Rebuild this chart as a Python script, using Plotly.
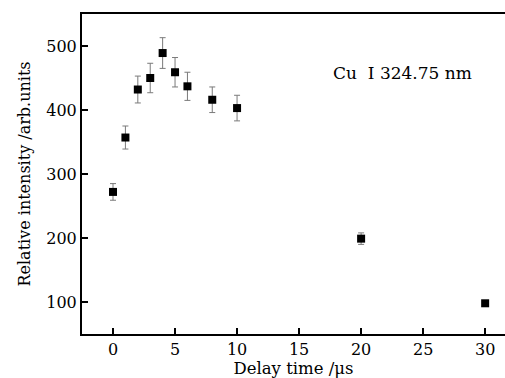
import plotly.graph_objects as go

delay_us = [0, 1, 2, 3, 4, 5, 6, 8, 10, 20, 30]
intensity = [272, 357, 432, 450, 489, 459, 437, 416, 403, 199, 98]
error = [13, 18, 21, 23, 24, 23, 22, 20, 20, 9, 2]
x_ticks = [0, 5, 10, 15, 20, 25, 30]
y_ticks = [100, 200, 300, 400, 500]

FONT = "DejaVu Serif"

fig = go.Figure()
fig.add_trace(go.Scatter(
    x=delay_us, y=intensity, mode="markers",
    marker=dict(symbol="square", size=8, color="black"),
    error_y=dict(type="data", array=error, visible=True,
                 color="#7a7a7a", thickness=1, width=3),
    showlegend=False,
))

fig.add_annotation(
    x=0.588, y=0.817, xref="paper", yref="paper",
    text="Cu  Ⅰ 324.75 nm", showarrow=False,
    xanchor="left", yanchor="middle",
    font=dict(family=FONT, size=17, color="black"),
)

fig.update_layout(
    width=505, height=378,
    margin=dict(l=82, r=0, t=14, b=44),
    paper_bgcolor="white", plot_bgcolor="white",
    font=dict(family=FONT, size=16, color="black"),
    xaxis=dict(
        range=[-2.5, 31.6], tickvals=x_ticks, ticks="inside",
        ticklen=6, tickwidth=1.5, tickcolor="black",
        showline=True, linecolor="black", linewidth=2, mirror=True,
        showgrid=False, zeroline=False,
        title=dict(text="Delay time /μs", standoff=0,
                   font=dict(family=FONT, size=16.5)),
        tickfont=dict(family=FONT, size=16),
    ),
    yaxis=dict(
        range=[50, 550], tickvals=y_ticks, ticks="inside",
        ticklen=6, tickwidth=1.5, tickcolor="black",
        showline=True, linecolor="black", linewidth=2,
        showgrid=False, zeroline=False,
        title=dict(text="Relative intensity /arb.units", standoff=12,
                   font=dict(family=FONT, size=16)),
        tickfont=dict(family=FONT, size=16),
    ),
)

fig.write_html("out.html")
